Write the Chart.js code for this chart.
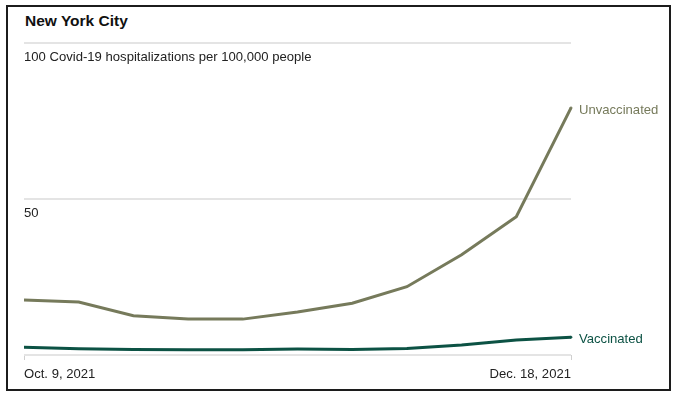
<!DOCTYPE html>
<html>
<head>
<meta charset="utf-8">
<script src="https://cdn.jsdelivr.net/npm/chart.js@4"></script>
<style>
  html, body { margin: 0; padding: 0; background: #fff; }
  #wrap { position: relative; width: 678px; height: 397px; overflow: hidden; }
  #frame {
    position: absolute; left: 6px; top: 5px; width: 665px; height: 386px;
    box-sizing: border-box; border: 2px solid #1c1c1c;
  }
  #title {
    position: absolute; left: 25px; top: 12px;
    font: bold 15.5px "Liberation Sans", Arial, sans-serif; line-height: 18px; color: #111;
  }
  canvas { position: absolute; left: 0; top: 0; }
</style>
</head>
<body>
<div id="wrap">
  <div id="frame"></div>
  <div id="title">New York City</div>
  <canvas id="c" width="678" height="397"></canvas>
</div>
<script>
// Weekly hospitalizations per 100,000 people, Oct. 9 – Dec. 18, 2021
const weeks = ['Oct. 9, 2021', '', '', '', '', '', '', '', '', '', 'Dec. 18, 2021'];
const unvaccinated = [17.6, 17.0, 12.6, 11.5, 11.5, 13.8, 16.6, 21.9, 32.1, 44.3, 79.2];
const vaccinated = [2.5, 2.0, 1.8, 1.7, 1.7, 1.9, 1.8, 2.1, 3.2, 4.8, 5.7];
const yTicks = { 100: '100 Covid-19 hospitalizations per 100,000 people', 50: '50', 0: '' };

const FONT = '"Liberation Sans", Arial, sans-serif';
const UNVAX = '#767a5b';
const VAX = '#0c5244';

// Series names drawn at the end of each line
const endLabels = {
  id: 'endLabels',
  afterDatasetsDraw(chart) {
    const { ctx } = chart;
    ctx.save();
    ctx.font = `13.1px ${FONT}`;
    ctx.textBaseline = 'middle';
    ctx.textAlign = 'left';
    chart.data.datasets.forEach((ds, i) => {
      const pts = chart.getDatasetMeta(i).data;
      const p = pts[pts.length - 1];
      ctx.fillStyle = ds.borderColor;
      ctx.fillText(ds.label, p.x + 8, p.y + 2);
    });
    ctx.restore();
  },
};

const lastOnly = (r) => weeks.map((_, i) => (i === weeks.length - 1 ? r : 0));

new Chart(document.getElementById('c'), {
  type: 'line',
  data: {
    labels: weeks,
    datasets: [
      {
        label: 'Unvaccinated',
        data: unvaccinated,
        borderColor: UNVAX,
        backgroundColor: UNVAX,
        borderWidth: 3,
        pointRadius: lastOnly(1),
        pointBorderWidth: 1,
        tension: 0,
      },
      {
        label: 'Vaccinated',
        data: vaccinated,
        borderColor: VAX,
        backgroundColor: VAX,
        borderWidth: 3,
        pointRadius: lastOnly(1),
        pointBorderWidth: 1,
        tension: 0,
      },
    ],
  },
  options: {
    responsive: false,
    animation: false,
    layout: { padding: { left: 24, right: 107, top: 43, bottom: 0 } },
    plugins: { legend: { display: false }, tooltip: { enabled: false } },
    scales: {
      x: {
        offset: false,
        border: { display: false },
        grid: {
          drawOnChartArea: false,
          drawTicks: true,
          tickLength: 5,
          lineWidth: 1,
          color: (c) => (c.index === 0 || c.index === weeks.length - 1 ? '#cfcfcf' : 'rgba(0,0,0,0)'),
        },
        ticks: {
          autoSkip: false,
          maxRotation: 0,
          align: 'inner',
          padding: 7,
          color: '#222',
          font: { family: FONT, size: 13.1 },
        },
        afterFit: (s) => { s.height = 42; },
      },
      y: {
        min: 0,
        max: 100,
        border: { display: false },
        grid: { color: '#e4e4e4', lineWidth: 2, drawTicks: false },
        ticks: {
          stepSize: 50,
          mirror: true,
          padding: 0,
          labelOffset: 14,
          color: '#222',
          font: { family: FONT, size: 13.1 },
          callback: (v) => yTicks[v] ?? '',
        },
        afterFit: (s) => { s.width = 0; },
      },
    },
  },
  plugins: [endLabels],
});
</script>
</body>
</html>
